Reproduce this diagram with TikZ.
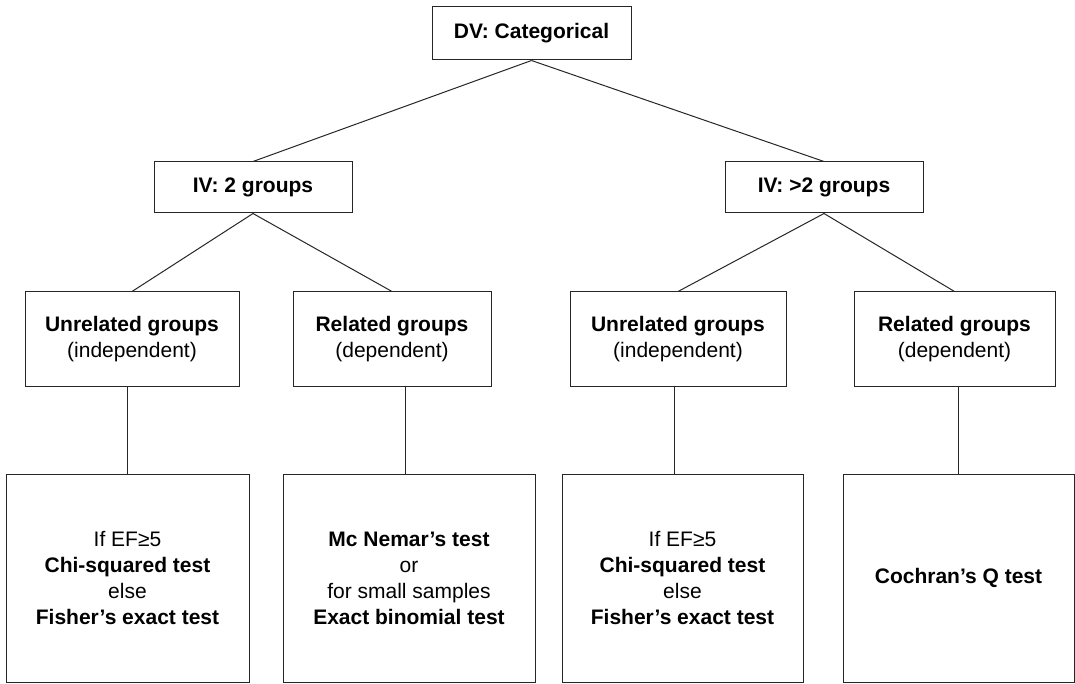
\documentclass[tikz,border=0pt]{standalone}
\usepackage{fontspec}
\setmainfont{Liberation Sans}
\begin{document}
\begin{tikzpicture}[x=1pt,y=-1pt,
  box/.style={draw=black!85, line width=1pt, inner sep=0pt, align=center,
    font=\fontsize{21}{26}\selectfont},
  conn/.style={draw=black!85, line width=1pt}]
\useasboundingbox (0,0) rectangle (1075,684);
\node[box, minimum width=199pt, minimum height=53pt] (dv) at (531.5,33.5) {\textbf{DV: Categorical}};
\node[box, minimum width=198pt, minimum height=51pt] (iv2) at (253,187.5) {\textbf{IV: 2 groups}};
\node[box, minimum width=198pt, minimum height=51pt] (iv3) at (824,187.5) {\textbf{IV: >2 groups}};
\node[box, minimum width=214pt, minimum height=94pt] (u1) at (132,339) {\textbf{Unrelated groups}\\(independent)};
\node[box, minimum width=198pt, minimum height=94pt] (r1) at (392,339) {\textbf{Related groups}\\(dependent)};
\node[box, minimum width=216pt, minimum height=94pt] (u3) at (678,339) {\textbf{Unrelated groups}\\(independent)};
\node[box, minimum width=201pt, minimum height=94pt] (r4) at (954.5,339) {\textbf{Related groups}\\(dependent)};
\node[box, minimum width=243pt, minimum height=208pt] (b1) at (127.5,578) {If EF≥5\\\textbf{Chi-squared test}\\else\\\textbf{Fisher’s exact test}};
\node[box, minimum width=252pt, minimum height=208pt] (b2) at (409,578) {\textbf{Mc Nemar’s test}\\or\\for small samples\\\textbf{Exact binomial test}};
\node[box, minimum width=241pt, minimum height=208pt] (b3) at (682.5,578) {If EF≥5\\\textbf{Chi-squared test}\\else\\\textbf{Fisher’s exact test}};
\node[box, minimum width=231pt, minimum height=208pt] (b4) at (958.5,578) {\textbf{Cochran’s Q test}};
\draw[conn] (dv.south) -- (iv2.north);
\draw[conn] (dv.south) -- (iv3.north);
\draw[conn] (iv2.south) -- (u1.north);
\draw[conn] (iv2.south) -- (r1.north);
\draw[conn] (iv3.south) -- (u3.north);
\draw[conn] (iv3.south) -- (r4.north);
\draw[conn] (b1.north) -- (b1.north |- u1.south);
\draw[conn] ([xshift=-4pt]b2.north) -- ([xshift=-4pt]b2.north |- r1.south);
\draw[conn] ([xshift=-8pt]b3.north) -- ([xshift=-8pt]b3.north |- u3.south);
\draw[conn] (b4.north) -- (b4.north |- r4.south);
\end{tikzpicture}
\end{document}
